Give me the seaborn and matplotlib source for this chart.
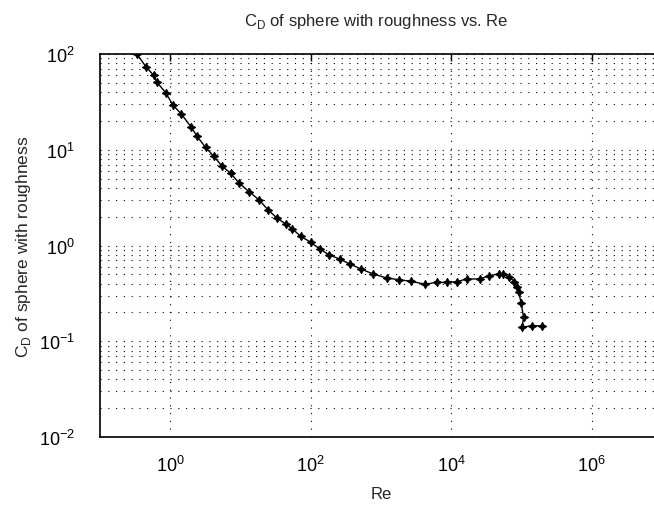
import matplotlib
matplotlib.use("Agg")
import matplotlib.pyplot as plt
import matplotlib.ticker as mticker
import seaborn as sb
import pandas as pd

# values
re_vals = [0.336, 0.45, 0.58, 0.65, 0.87, 1.09, 1.44, 2.0, 2.41, 3.18, 4.17,
           5.48, 7.22, 9.49, 13.2, 18.3, 24.6, 33.4, 44, 54.7, 71.9, 100,
           134, 182, 260, 363, 516, 774, 1200, 1780, 2670, 4270, 6170, 8590,
           11900, 16600, 25700, 34100, 47400, 55400, 67400, 79400, 85700,
           91600, 99000, 107000, 102000, 140000, 197000]
cd_vals = [100, 73.6, 60, 50.6, 39, 29.3, 23.6, 17.1, 13.8, 10.6, 8.54,
           6.71, 5.71, 4.5, 3.65, 3.01, 2.36, 1.92, 1.68, 1.49, 1.25, 1.08,
           0.92, 0.80, 0.72, 0.64, 0.569, 0.504, 0.458, 0.44, 0.423, 0.394,
           0.412, 0.412, 0.418, 0.447, 0.447, 0.484, 0.504, 0.504, 0.465,
           0.419, 0.366, 0.324, 0.249, 0.178, 0.14, 0.145, 0.145]
xtick_vals = [1e0, 1e2, 1e4, 1e6]

df = pd.DataFrame({"Re": re_vals, "CD": cd_vals})

sb.set_style("white")
plt.rcParams['font.family'] = ['Liberation Sans', 'DejaVu Sans']
plt.rcParams['mathtext.fontset'] = 'custom'
plt.rcParams['mathtext.rm'] = 'Liberation Sans'

fig = plt.figure(figsize=(6.54, 5.06), dpi=100)
ax = fig.add_axes([100 / 654, (506 - 438) / 506, 562 / 654, 383 / 506])
ax.set_xscale("log")
ax.set_yscale("log")

sb.lineplot(data=df, x="Re", y="CD", sort=False, ax=ax, color="black",
            linewidth=1.0, marker=(4, 1, 0), markersize=6,
            markeredgecolor="black", markerfacecolor="black")

ax.set_xlim(0.1, 1e7)
ax.set_ylim(1e-2, 1e2)
ax.xaxis.set_major_locator(mticker.FixedLocator(xtick_vals))
ax.xaxis.set_minor_locator(mticker.NullLocator())
ax.yaxis.set_major_locator(mticker.LogLocator(base=10, numticks=10))
ax.yaxis.set_minor_locator(mticker.LogLocator(base=10, subs=range(2, 10), numticks=20))
ax.yaxis.set_minor_formatter(mticker.NullFormatter())

dots = (0, (1, 6))
ax.grid(True, which="major", axis="both", linestyle=dots, color="black", linewidth=0.8)
ax.grid(True, which="minor", axis="y", linestyle=dots, color="black", linewidth=0.8)

ax.tick_params(which="major", direction="in", length=5, width=1, top=True, right=True,
               labelsize=13, colors="black")
ax.tick_params(axis="x", which="major", pad=13)
ax.tick_params(axis="y", which="major", pad=18)
ax.tick_params(which="minor", direction="in", length=0)
for s in ax.spines.values():
    s.set_color("black")
    s.set_linewidth(1.2)

ax.set_xlabel("Re", fontsize=12, labelpad=8)
ax.set_ylabel("C$_\\mathrm{D}$ of sphere with roughness", fontsize=12.5, labelpad=4)
ax.set_title("C$_\\mathrm{D}$ of sphere with roughness vs. Re", fontsize=12, pad=21)
ax.title.set_position((276 / 562, 1.0))

fig.savefig("out.png", dpi=100)
plt.close(fig)
